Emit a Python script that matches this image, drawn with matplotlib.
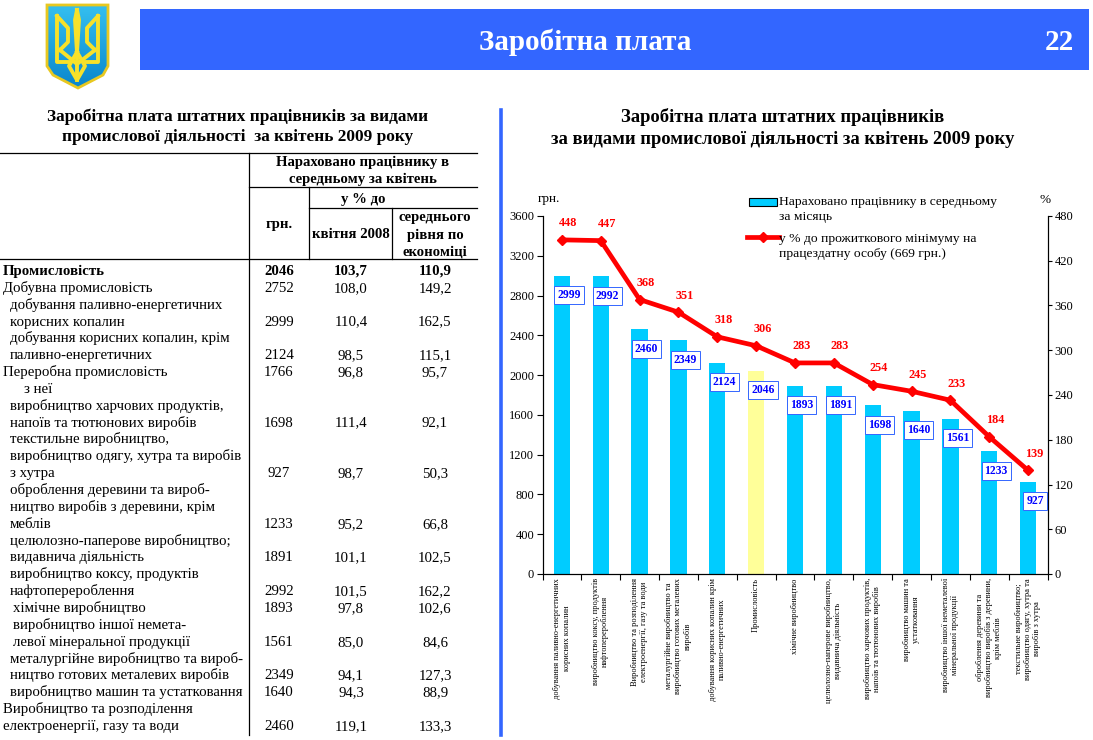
import numpy as np
import matplotlib
matplotlib.use("Agg")
import matplotlib.pyplot as plt
from matplotlib.patches import Polygon, Rectangle

plt.rcParams['font.family'] = ['Liberation Serif', 'DejaVu Serif']

categories = [
    "добування паливно-енергетичних\nкорисних копалин",
    "виробництво коксу, продуктів\nнафтоперероблення",
    "Виробництво та розподілення\nелектроенергії, газу та води",
    "металургійне виробництво та\nвиробництво готових металевих\nвиробів",
    "добування корисних копалин крім\nпаливно-енергетичних",
    "Промисловість",
    "хімічне виробництво",
    "целюлозно-паперове виробництво,\nвидавнича діяльність",
    "виробництво харчових продуктів,\nнапоїв та тютюнових виробів",
    "виробництво машин та\nустатковання",
    "виробництво іншої неметалевої\nмінеральної продукції",
    "оброблення деревини та\nвиробництво виробів з деревини,\nкрім меблів",
    "текстильне виробництво;\nвиробництво одягу, хутра та\nвиробів з хутра",
]
salary = [2999, 2992, 2460, 2349, 2124, 2046, 1893, 1891, 1698, 1640, 1561, 1233, 927]
percent = [448, 447, 368, 351, 318, 306, 283, 283, 254, 245, 233, 184, 139]

# рядки таблиці: текст, відступ, грн, до 2008, до економіки
table_rows = [
    ("Промисловість", 3, "2046", "103,7", "110,9"),
    ("Добувна промисловість", 3, "2752", "108,0", "149,2"),
    ("добування паливно-енергетичних", 10, "", "", ""),
    ("корисних копалин", 10, "2999", "110,4", "162,5"),
    ("добування корисних копалин, крім", 10, "", "", ""),
    ("паливно-енергетичних", 10, "2124", "98,5", "115,1"),
    ("Переробна промисловість", 3, "1766", "96,8", "95,7"),
    ("з неї", 24, "", "", ""),
    ("виробництво харчових продуктів,", 10, "", "", ""),
    ("напоїв та тютюнових виробів", 10, "1698", "111,4", "92,1"),
    ("текстильне виробництво,", 10, "", "", ""),
    ("виробництво одягу, хутра та виробів", 10, "", "", ""),
    ("з хутра", 10, "927", "98,7", "50,3"),
    ("оброблення деревини та вироб-", 10, "", "", ""),
    ("ництво виробів з деревини, крім", 10, "", "", ""),
    ("меблів", 10, "1233", "95,2", "66,8"),
    ("целюлозно-паперове виробництво;", 10, "", "", ""),
    ("видавнича діяльність", 10, "1891", "101,1", "102,5"),
    ("виробництво коксу, продуктів", 10, "", "", ""),
    ("нафтоперероблення", 10, "2992", "101,5", "162,2"),
    ("хімічне виробництво", 13, "1893", "97,8", "102,6"),
    ("виробництво іншої немета-", 13, "", "", ""),
    ("левої мінеральної продукції", 13, "1561", "85,0", "84,6"),
    ("металургійне виробництво та вироб-", 10, "", "", ""),
    ("ництво готових металевих виробів", 10, "2349", "94,1", "127,3"),
    ("виробництво машин та устатковання", 10, "1640", "94,3", "88,9"),
    ("Виробництво та розподілення", 3, "", "", ""),
    ("електроенергії, газу та води", 3, "2460", "119,1", "133,3"),
]

W, H = 1093, 740
BLUE = "#3366ff"
fig = plt.figure(figsize=(W / 100, H / 100), dpi=100)

# накладка в пікселях для шапки, таблиці і легенди
page = fig.add_axes([0, 0, 1, 1])
page.set_xlim(0, W)
page.set_ylim(H, 0)
page.axis("off")

page.add_patch(Rectangle((140, 9), 949, 61, color=BLUE, lw=0))
page.text(585, 42, "Заробітна плата", color="white", fontsize=21, fontweight="bold",
          ha="center", va="center")
page.text(1059, 42, "22", color="white", fontsize=21, fontweight="bold", ha="center", va="center")

# герб
outline = [(47, 5), (108, 5), (108, 66), (103, 75), (78, 88), (53, 75), (47, 66)]
grad = np.linspace(0, 1, 100).reshape(-1, 1)
img = page.imshow(grad, extent=(47, 108, 88, 4), cmap=matplotlib.colors.LinearSegmentedColormap.from_list(
    "shield", ["#35c0f0", "#0a86cc"]), aspect="auto", zorder=2)
shield = Polygon(outline, closed=True, fc="none", ec="#e8c820", lw=2, zorder=3)
page.add_patch(shield)
img.set_clip_path(shield)
page.set_xlim(0, W)
page.set_ylim(H, 0)
trident = [
    [(77, 10), (75, 20), (77, 52), (79, 20), (77, 10)],
    [(57, 16), (57, 62), (70, 62)],
    [(98, 16), (98, 62), (85, 62)],
    [(57, 16), (68, 28), (68, 42), (60, 50)],
    [(98, 16), (87, 28), (87, 42), (95, 50)],
    [(60, 50), (77, 64), (95, 50)],
    [(77, 52), (69, 66), (77, 80), (85, 66), (77, 52)],
    [(77, 52), (77, 80)],
]
for part in trident:
    xs, ys = zip(*part)
    page.plot(xs, ys, color="#f7e12a", lw=2.8, zorder=4, solid_joinstyle="round")

# заголовки
page.text(238, 117, "Заробітна плата штатних працівників за видами", fontsize=12.4, fontweight="bold",
          ha="center", va="center")
page.text(238, 137, "промислової діяльності  за квітень 2009 року", fontsize=12.4, fontweight="bold",
          ha="center", va="center")
page.text(783, 117, "Заробітна плата штатних працівників", fontsize=13.4, fontweight="bold",
          ha="center", va="center")
page.text(783, 139, "за видами промислової діяльності за квітень 2009 року", fontsize=13.4, fontweight="bold",
          ha="center", va="center")

page.plot([501, 501], [110, 735], color=BLUE, lw=2.6)

# сітка таблиці
for x0, x1, y in [(0, 477, 153), (249, 477, 187), (309, 477, 208), (0, 477, 259)]:
    page.plot([x0, x1], [y, y], color="black", lw=0.9)
for x, y0, y1 in [(249, 153, 735), (309, 187, 259), (392, 208, 259)]:
    page.plot([x, x], [y0, y1], color="black", lw=0.9)

head = dict(fontsize=10.6, fontweight="bold", ha="center", va="baseline")
page.text(363, 166, "Нараховано працівнику в", **head)
page.text(363, 183, "середньому за квітень", **head)
page.text(363, 203, "у % до", **head)
page.text(279, 228, "грн.", **head)
page.text(351, 238, "квітня 2008", **head)
page.text(435, 221, "середнього", **head)
page.text(435, 239, "рівня по", **head)
page.text(435, 256, "економіці", **head)

row_y = 275
row_step = 16.85
for i, (label, indent, uah, to2008, toecon) in enumerate(table_rows):
    y = row_y + i * row_step
    weight = "bold" if i == 0 else "normal"
    page.text(indent, y, label, fontsize=10.7, fontweight=weight, ha="left", va="baseline")
    page.text(279, y, uah, fontsize=10.7, fontweight=weight, ha="center", va="baseline")
    page.text(351, y, to2008, fontsize=10.7, fontweight=weight, ha="center", va="baseline")
    page.text(435, y, toecon, fontsize=10.7, fontweight=weight, ha="center", va="baseline")

# графік
ax = fig.add_axes([542.5 / W, 1 - 574 / H, 505 / W, 358 / H])
ax.patch.set_alpha(0)
x = np.arange(len(salary))
colors = ["#00ccff"] * len(salary)
colors[categories.index("Промисловість")] = "#ffff99"
ax.bar(x, salary, width=0.42, color=colors)
ax.set_xlim(-0.5, len(salary) - 0.5)
ax.set_ylim(0, 3600)
ax.set_yticks(np.arange(0, 3601, 400))
ax.tick_params(axis="y", labelsize=9, length=4, width=0.8, pad=2)
ax.spines["top"].set_visible(False)
ax.set_xticks(x)
ax.set_xticklabels(categories, rotation=90, fontsize=6, ha="center", va="top", multialignment="center")
ax.tick_params(axis="x", which="major", length=0, pad=3)
ax.set_xticks(np.arange(-0.5, len(salary)), minor=True)
ax.tick_params(axis="x", which="minor", length=4, width=0.8)

ax2 = ax.twinx()
ax2.plot(x, percent, color="#ff0000", lw=3.4, marker="D", ms=5.5, solid_joinstyle="round")
ax2.set_ylim(0, 480)
ax2.set_yticks(np.arange(0, 481, 60))
ax2.tick_params(axis="y", labelsize=9, length=3, width=0.8, pad=2)
ax2.spines["top"].set_visible(False)

for xi, p in zip(x, percent):
    ax2.annotate(str(p), (xi, p), xytext=(4.5, 12), textcoords="offset points", color="#ff0000",
                 fontsize=8.8, fontweight="bold", ha="center", va="center")
for xi, s in zip(x, salary):
    ax.annotate(str(s), (xi, s), xytext=(5, -14), textcoords="offset points", color="#0000ff",
                fontsize=8.4, fontweight="bold", ha="center", va="center", zorder=5,
                bbox=dict(boxstyle="square,pad=0.25", fc="white", ec=BLUE, lw=0.7))

# легенда і підписи осей
page.text(538, 199, "грн.", fontsize=9.5, ha="left", va="center")
page.text(1039, 200, "%", fontsize=9.5, ha="left", va="center")
page.add_patch(Rectangle((749, 198), 28, 8, fc="#00ccff", ec="black", lw=0.8))
page.plot([747, 779], [237, 237], color="#ff0000", lw=3.4)
page.plot([763], [237], color="#ff0000", marker="D", ms=5.5)
for yy, line in [(202, "Нараховано працівнику в середньому"), (217, "за місяць"),
                 (239, "у % до прожиткового мінімуму на"), (254, "працездатну особу (669 грн.)")]:
    page.text(779, yy, line, fontsize=9.7, ha="left", va="center")

fig.savefig("out.png", dpi=100)
